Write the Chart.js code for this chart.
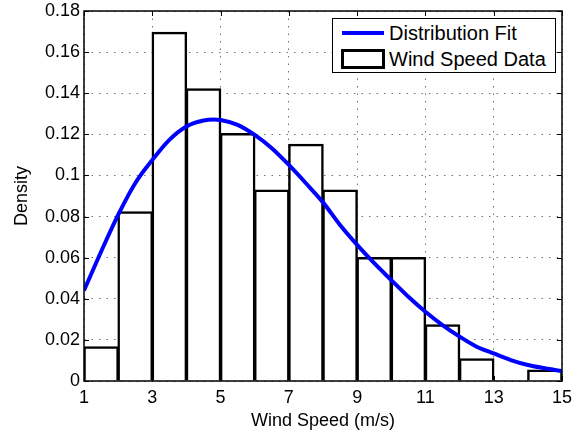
<!DOCTYPE html>
<html>
<head>
<meta charset="utf-8">
<script src="https://cdn.jsdelivr.net/npm/chart.js@4.4.1/dist/chart.umd.min.js"></script>
<style>
    body { margin: 0; background: #fff; }
    .wrap { position: relative; width: 584px; height: 432px; }
    .legend {
        position: absolute; left: 332px; top: 18px; width: 222px; height: 53px;
        border: 1px solid #000; background: #fff;
        font-family: "Liberation Sans", Arial, Helvetica, sans-serif; font-size: 20px; color: #000;
    }
    .legend .row { position: absolute; left: 0; height: 24px; line-height: 24px; }
    .legend .txt { position: absolute; left: 56px; white-space: nowrap; }
    .legend .line { position: absolute; left: 9px; top: 10px; width: 42px; height: 4px; background: #0000ff; }
    .legend .box { position: absolute; left: 8px; top: 2px; width: 38px; height: 14px; border: 3px solid #000; }
</style>
</head>
<body>
<div class="wrap">
    <canvas id="chart" width="584" height="432"></canvas>
    <div class="legend">
        <div class="row" style="top:2px"><span class="line"></span><span class="txt">Distribution Fit</span></div>
        <div class="row" style="top:28px;"><span class="box"></span><span class="txt">Wind Speed Data</span></div>
    </div>
</div>
<script>
// histogram bins (centres, width 1) and density
var binCenters = [1.5, 2.5, 3.5, 4.5, 5.5, 6.5, 7.5, 8.5, 9.5, 10.5, 11.5, 12.5, 13.5, 14.5];
var binDensity = [0.0165, 0.0822, 0.1695, 0.142, 0.1203, 0.0928, 0.115, 0.0928, 0.0600, 0.0600, 0.0272, 0.0107, 0, 0.0052];

// fitted curve
var fitX = [1, 1.5, 2, 2.5, 3, 3.5, 4, 4.5, 4.8, 5, 5.5, 6, 6.5, 7, 7.5, 8, 8.5, 9, 9.5, 10, 10.5, 11, 11.5, 12, 12.5, 13, 13.5, 14, 14.5, 15];
var fitY = [0.0440, 0.0629, 0.0808, 0.0962, 0.1075, 0.1173, 0.1238, 0.1267, 0.1272, 0.1270, 0.1246, 0.1197, 0.1132, 0.1051, 0.0962, 0.0869, 0.0759, 0.0662, 0.0573, 0.0491, 0.0410, 0.0337, 0.0272, 0.0216, 0.0167, 0.0134, 0.0102, 0.0078, 0.0062, 0.0048];

var xTicks = [1, 3, 5, 7, 9, 11, 13, 15];
var yTicks = [0, 0.02, 0.04, 0.06, 0.08, 0.1, 0.12, 0.14, 0.16, 0.18];

var fontFamily = '"Liberation Sans", Arial, Helvetica, sans-serif';

function pairs(xs, ys) {
    return xs.map(function (x, i) { return { x: x, y: ys[i] }; });
}

function tickText(v) {
    return String(Math.round(v * 100) / 100);
}

// box round the axes and the inward tick marks
var axesBox = {
    id: 'axesBox',
    afterDraw: function (chart) {
        var ctx = chart.ctx;
        var a = chart.chartArea;
        var xs = chart.scales.x, ys = chart.scales.y;
        var len = 5;
        ctx.save();
        ctx.strokeStyle = '#000';
        ctx.lineWidth = 1;
        ctx.beginPath();
        xTicks.forEach(function (v) {
            var px = Math.round(xs.getPixelForValue(v)) + 0.5;
            ctx.moveTo(px, a.bottom); ctx.lineTo(px, a.bottom - len);
            ctx.moveTo(px, a.top); ctx.lineTo(px, a.top + len);
        });
        yTicks.forEach(function (v) {
            var py = Math.round(ys.getPixelForValue(v)) + 0.5;
            ctx.moveTo(a.left, py); ctx.lineTo(a.left + len, py);
            ctx.moveTo(a.right, py); ctx.lineTo(a.right - len, py);
        });
        ctx.stroke();
        ctx.lineWidth = 1.5;
        ctx.strokeRect(a.left, a.top, a.right - a.left, a.bottom - a.top);
        ctx.restore();
    }
};

var ctx = document.getElementById('chart');
var myChart = new Chart(ctx, {
    type: 'bar',
    data: {
        datasets: [{
            type: 'line',
            label: 'Distribution Fit',
            data: pairs(fitX, fitY),
            borderColor: '#0000ff',
            borderWidth: 4,
            pointRadius: 0,
            cubicInterpolationMode: 'monotone',
            fill: false,
            order: 0
        }, {
            type: 'bar',
            label: 'Wind Speed Data',
            data: pairs(binCenters, binDensity),
            backgroundColor: '#ffffff',
            borderColor: '#000000',
            borderWidth: 2.5,
            inflateAmount: 0.75,
            barPercentage: 1,
            categoryPercentage: 1,
            order: 1
        }]
    },
    options: {
        responsive: false,
        animation: false,
        layout: { padding: { left: 0, right: 22, top: 11, bottom: 0 } },
        plugins: {
            legend: { display: false },
            tooltip: { enabled: false }
        },
        scales: {
            x: {
                type: 'linear',
                min: 1,
                max: 15,
                offset: false,
                afterBuildTicks: function (s) { s.ticks = xTicks.map(function (v) { return { value: v }; }); },
                afterFit: function (s) { s.height = 51; },
                grid: { offset: false, drawTicks: false, color: 'rgba(0,0,0,0.55)', lineWidth: 1 },
                border: { display: false, dash: [1.5, 6] },
                ticks: { padding: 6, color: '#000', font: { family: fontFamily, size: 18 }, maxRotation: 0, callback: tickText },
                title: { display: true, text: 'Wind Speed (m/s)', color: '#000', font: { family: fontFamily, size: 18 }, padding: { top: 3, bottom: 0 } }
            },
            y: {
                min: 0,
                max: 0.18,
                afterBuildTicks: function (s) { s.ticks = yTicks.map(function (v) { return { value: v }; }); },
                afterFit: function (s) { s.width = 84; },
                grid: { drawTicks: true, tickLength: 4, tickColor: 'rgba(0,0,0,0)', color: 'rgba(0,0,0,0.55)', lineWidth: 1 },
                border: { display: false, dash: [1.5, 6] },
                ticks: { padding: 0, color: '#000', font: { family: fontFamily, size: 18 }, callback: tickText },
                title: { display: true, text: 'Density', color: '#000', font: { family: fontFamily, size: 18 }, padding: { top: 11, bottom: 0 } }
            }
        }
    },
    plugins: [axesBox]
});
</script>
</body>
</html>
